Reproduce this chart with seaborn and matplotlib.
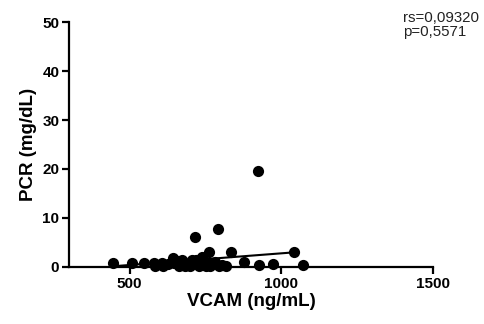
import matplotlib
matplotlib.use("Agg")
import matplotlib.pyplot as plt
import seaborn as sns
import pandas as pd

# VCAM (ng/mL) vs PCR (mg/dL)
vcam = [446, 508, 547, 580, 585, 607, 611, 625, 644, 646, 655, 662, 670, 673,
        684, 690, 695, 700, 705, 715, 720, 728, 735, 740, 745, 750, 760, 763,
        766, 780, 792, 794, 805, 816, 834, 876, 922, 926, 973, 1041, 1070]
pcr = [0.9, 0.9, 0.9, 0.75, 0.1, 0.75, 0.1, 0.6, 1.8, 0.75, 1.2, 0.1, 0.9, 1.4,
       0.1, 0.4, 0.75, 0.3, 1.5, 6.2, 1.4, 0.1, 0.5, 2.0, 1.1, 0.3, 0.8, 3.0,
       0.1, 1.1, 7.7, 0.1, 0.5, 0.1, 3.0, 1.0, 19.6, 0.4, 0.6, 3.0, 0.4]

# linear fit drawn by the original software
fit_x = [446, 1045]
fit_y = [0.15, 3.0]

stats_text = "rs=0,09320\np=0,5571"

df = pd.DataFrame({"VCAM": vcam, "PCR": pcr})

sns.set_style("ticks")
plt.rcParams["font.family"] = ["Liberation Sans", "DejaVu Sans"]
for k in ["text.color", "axes.labelcolor", "xtick.color", "ytick.color", "axes.edgecolor"]:
    plt.rcParams[k] = "black"

fig = plt.figure(figsize=(4.84, 3.24), dpi=100)
ax = fig.add_axes([0.1426, 0.176, 0.752, 0.756])

ax.plot(fit_x, fit_y, color="black", linewidth=1.5, zorder=2)
sns.scatterplot(data=df, x="VCAM", y="PCR", ax=ax, color="black", s=65,
                edgecolor="black", linewidth=0, zorder=3, clip_on=False)

ax.set_xlim(300, 1500)
ax.set_ylim(0, 50)
ax.set_xticks([500, 1000, 1500])
ax.set_yticks([0, 10, 20, 30, 40, 50])
sns.despine(ax=ax)
for s in ["left", "bottom"]:
    ax.spines[s].set_linewidth(1.6)
ax.tick_params(width=1.6, length=5, labelsize=11, pad=2)
for lab in ax.get_xticklabels() + ax.get_yticklabels():
    lab.set_fontweight("bold")

ax.set_xlabel("VCAM (ng/mL)", fontsize=13.5, fontweight="bold", labelpad=2)
ax.set_ylabel("PCR (mg/dL)", fontsize=13.5, fontweight="bold", labelpad=4)

fig.text(0.832, 0.965, stats_text, fontsize=10.8, va="top", ha="left",
         linespacing=1.0, color="#222222")

fig.savefig("out.png", dpi=100)
